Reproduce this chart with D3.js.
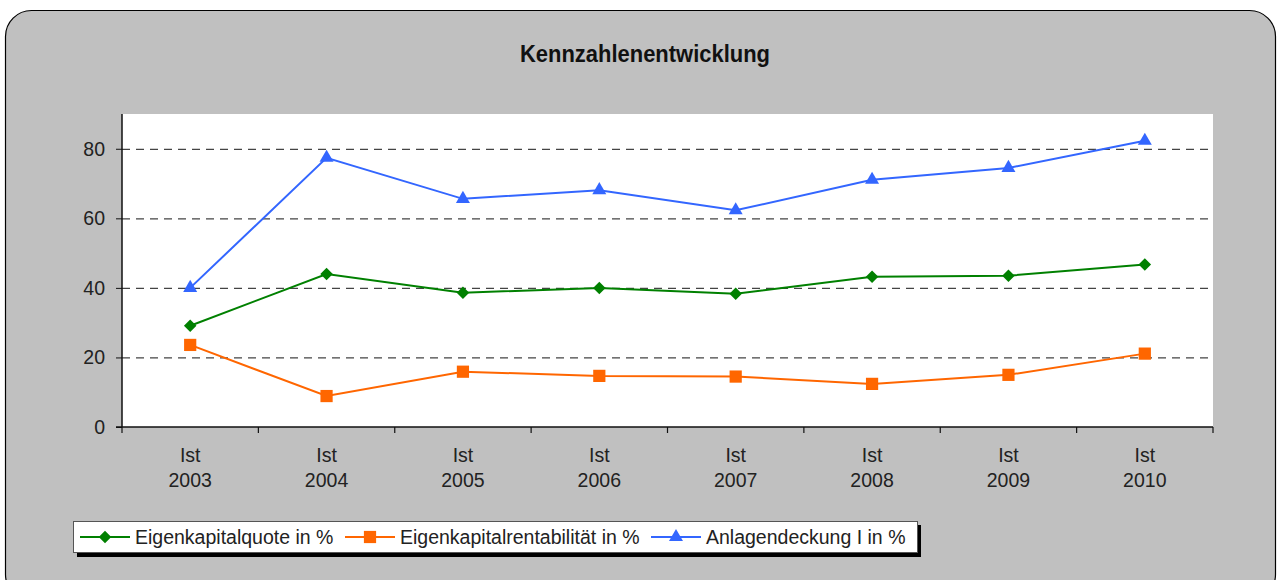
<!DOCTYPE html>
<html>
<head>
<meta charset="UTF-8">
<title>Kennzahlenentwicklung</title>
<style>
  body { margin: 0; background: #fff; }
  svg text { font-family: "Liberation Sans", Arial, sans-serif; }
</style>
</head>
<body>
<div id="chart"></div>
<script src="https://d3js.org/d3.v7.min.js"></script>
<script>
// data
var years = ["2003", "2004", "2005", "2006", "2007", "2008", "2009", "2010"];
var eigenkapitalquote = [29.1, 44.0, 38.6, 40.0, 38.3, 43.2, 43.5, 46.7];
var eigenkapitalrentabilitaet = [23.6, 8.9, 15.9, 14.7, 14.5, 12.4, 15.0, 21.1];
var anlagendeckung = [40.0, 77.4, 65.6, 68.1, 62.3, 71.1, 74.5, 82.3];
var yTicks = [0, 20, 40, 60, 80];

var series = [
  {name: "Eigenkapitalquote in %", values: eigenkapitalquote, color: "#008000", symbol: d3.symbolDiamond2, size: 100},
  {name: "Eigenkapitalrentabilität in %", values: eigenkapitalrentabilitaet, color: "#ff6600", symbol: d3.symbolSquare2, size: 190},
  {name: "Anlagendeckung I in %", values: anlagendeckung, color: "#3366ff", symbol: d3.symbolTriangle2, size: 140}
];

var W = 1278, H = 580;
var plot = {left: 122, right: 1213, top: 114, bottom: 427};
var fs = "19.5px";

var svg = d3.select("#chart").append("svg")
  .attr("width", W).attr("height", H);

// outer rounded frame
svg.append("rect")
  .attr("x", 5.5).attr("y", 10.5)
  .attr("width", 1270).attr("height", 590)
  .attr("rx", 26)
  .attr("fill", "#c0c0c0")
  .attr("stroke", "#000").attr("stroke-width", 1.2);

svg.append("text")
  .attr("x", 520).attr("y", 62)
  .attr("textLength", 250)
  .attr("lengthAdjust", "spacingAndGlyphs")
  .style("font-weight", "bold")
  .style("font-size", "24px")
  .attr("fill", "#111")
  .text("Kennzahlenentwicklung");

var x = d3.scaleBand().domain(years).range([plot.left, plot.right]);
var y = d3.scaleLinear().domain([0, 90]).range([plot.bottom, plot.top]);

// plot background
svg.append("rect")
  .attr("x", plot.left).attr("y", plot.top)
  .attr("width", plot.right - plot.left).attr("height", plot.bottom - plot.top)
  .attr("fill", "#fff");

// gridlines
svg.append("g").selectAll("line")
  .data(yTicks.filter(function(d) { return d > 0; }))
  .join("line")
    .attr("x1", plot.left).attr("x2", plot.right)
    .attr("y1", function(d) { return y(d) + 0.5; })
    .attr("y2", function(d) { return y(d) + 0.5; })
    .attr("stroke", "#444").attr("stroke-width", 1.2)
    .attr("stroke-dasharray", "8,6");

// y axis
var yAxis = svg.append("g")
  .attr("transform", "translate(" + plot.left + ",0)")
  .call(d3.axisLeft(y).tickValues(yTicks).tickSize(6).tickPadding(11));
yAxis.select(".domain").attr("d", "M0," + plot.top + "V" + plot.bottom).attr("stroke", "#111").attr("stroke-width", 1.5);
yAxis.selectAll(".tick line").attr("stroke", "#111");
yAxis.selectAll("text")
  .style("font-size", fs).attr("fill", "#222")
  .style("font-family", "'Liberation Sans', Arial, sans-serif");

// x axis: ticks between categories
var xg = svg.append("g");
xg.append("line")
  .attr("x1", plot.left - 6).attr("x2", plot.right)
  .attr("y1", plot.bottom).attr("y2", plot.bottom)
  .attr("stroke", "#111").attr("stroke-width", 1.5);
var bounds = years.map(function(d) { return x(d); }).concat([plot.right]);
xg.selectAll(".xt").data(bounds).join("line")
  .attr("x1", function(d) { return d; }).attr("x2", function(d) { return d; })
  .attr("y1", plot.bottom).attr("y2", plot.bottom + 6)
  .attr("stroke", "#111").attr("stroke-width", 1.2);
var xl = xg.selectAll(".xl").data(years).join("text")
  .attr("text-anchor", "middle")
  .attr("x", function(d) { return x(d) + x.bandwidth() / 2; })
  .style("font-size", fs).attr("fill", "#222");
xl.append("tspan").attr("x", function(d) { return x(d) + x.bandwidth() / 2; }).attr("y", 462).text("Ist");
xl.append("tspan").attr("x", function(d) { return x(d) + x.bandwidth() / 2; }).attr("y", 487).text(function(d) { return d; });

// lines and markers
var line = d3.line()
  .x(function(d, i) { return x(years[i]) + x.bandwidth() / 2; })
  .y(function(d) { return y(d); });

series.forEach(function(s) {
  svg.append("path")
    .datum(s.values)
    .attr("d", line)
    .attr("fill", "none")
    .attr("stroke", s.color)
    .attr("stroke-width", 2);
  svg.append("g").selectAll("path")
    .data(s.values)
    .join("path")
      .attr("transform", function(d, i) {
        return "translate(" + (x(years[i]) + x.bandwidth() / 2) + "," + y(d) + ")";
      })
      .attr("d", d3.symbol().type(s.symbol).size(s.size))
      .attr("fill", s.color);
});

// legend
var lg = svg.append("g");
lg.append("rect")
  .attr("x", 77).attr("y", 525).attr("width", 844).attr("height", 32)
  .attr("fill", "#000");
lg.append("rect")
  .attr("x", 73.5).attr("y", 521.5).attr("width", 844).attr("height", 31)
  .attr("fill", "#fff").attr("stroke", "#555").attr("stroke-width", 1);
var legX = [80, 345, 651];
series.forEach(function(s, i) {
  var gx = legX[i];
  lg.append("line")
    .attr("x1", gx).attr("x2", gx + 50)
    .attr("y1", 537).attr("y2", 537)
    .attr("stroke", s.color).attr("stroke-width", 2);
  lg.append("path")
    .attr("transform", "translate(" + (gx + 25) + ",537)")
    .attr("d", d3.symbol().type(s.symbol).size(s.size))
    .attr("fill", s.color);
  lg.append("text")
    .attr("x", gx + 55).attr("y", 544)
    .style("font-size", fs).attr("fill", "#222")
    .text(s.name);
});
</script>
</body>
</html>
